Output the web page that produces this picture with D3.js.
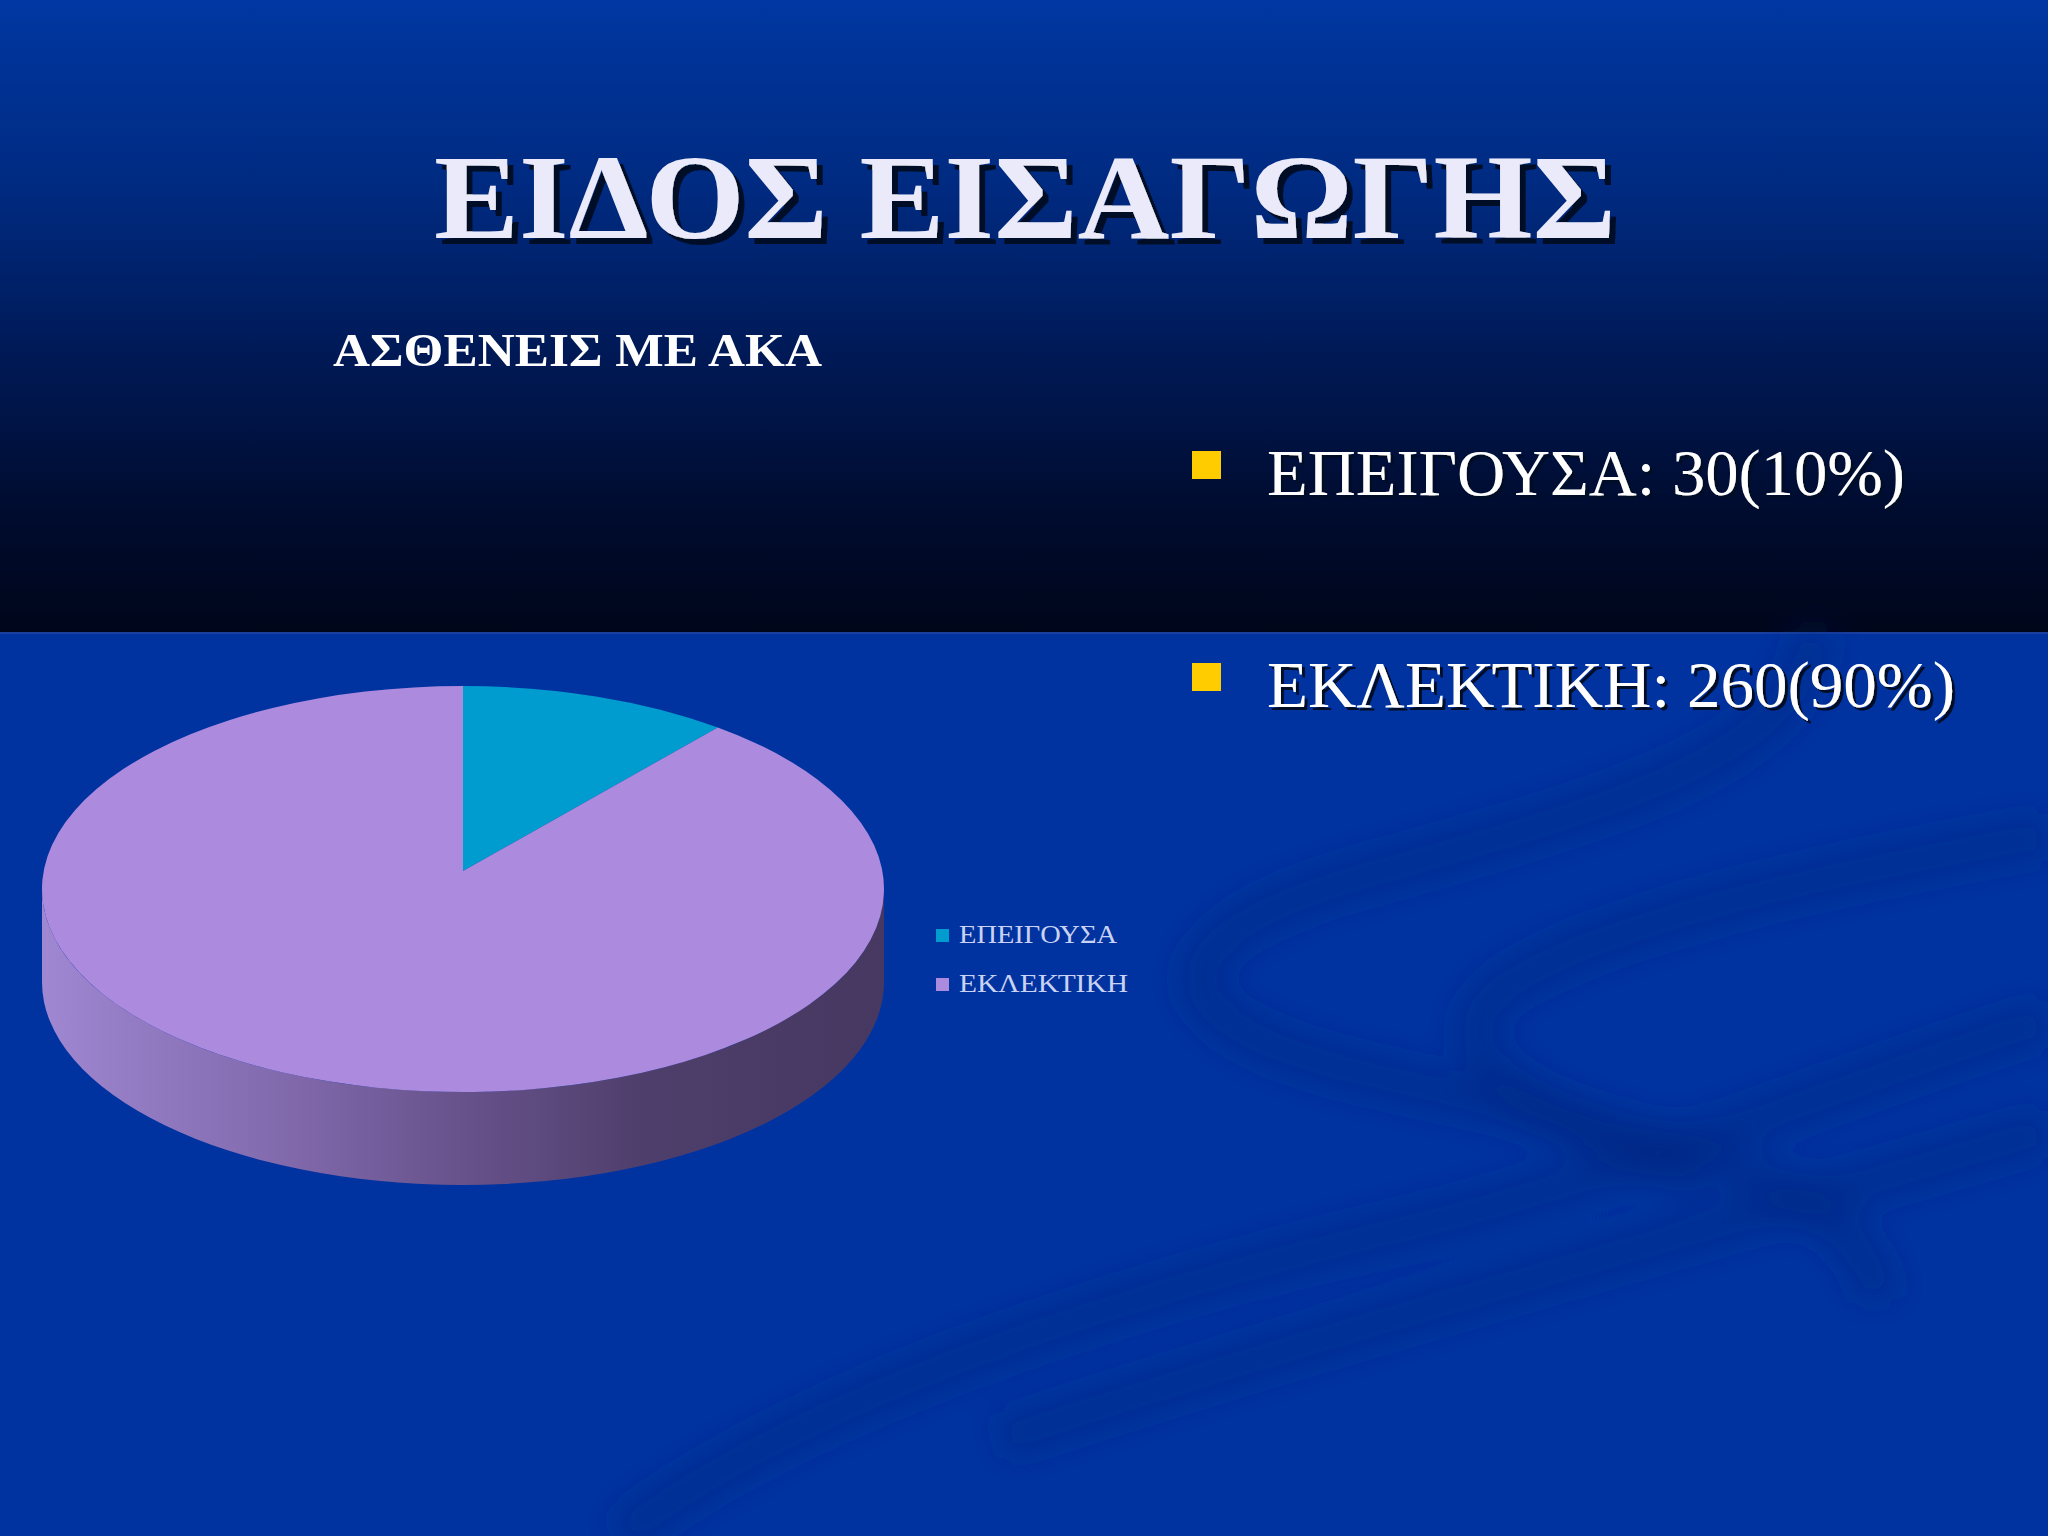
<!DOCTYPE html>
<html>
<head>
<meta charset="utf-8">
<script src="https://cdn.jsdelivr.net/npm/d3@7"></script>
<style>
  body { margin: 0; background: #0033a0; overflow: hidden; }
</style>
</head>
<body>
<div id="slide"></div>
<script>
// data
const categories = ["ΕΠΕΙΓΟΥΣΑ", "ΕΚΛΕΚΤΙΚΗ"]
const counts = [30, 260]
const percents = ["10%", "90%"]
const sliceColors = ["#009ccf", "#ac8ade"]
const title = "ΕΙΔΟΣ ΕΙΣΑΓΩΓΗΣ"
const chartTitle = "ΑΣΘΕΝΕΙΣ ΜΕ ΑΚΑ"

var width = 2048,
    height = 1536,
    split = 632

var svg = d3.select("#slide")
  .append("svg")
    .attr("width", width)
    .attr("height", height)

var defs = svg.append("defs")

// top band gradient (blue -> almost black)
var topGrad = defs.append("linearGradient")
  .attr("id", "topGrad").attr("x1", 0).attr("y1", 0).attr("x2", 0).attr("y2", 1)
;[[0, "#0037a2"], [0.3, "#002a80"], [0.55, "#001a58"], [0.8, "#000c30"], [1, "#00061a"]]
  .forEach(function(s){ topGrad.append("stop").attr("offset", s[0]).attr("stop-color", s[1]) })

// side gradient for the 3d pie
var sideGrad = defs.append("linearGradient")
  .attr("id", "sideGrad").attr("gradientUnits", "userSpaceOnUse")
  .attr("x1", 42).attr("y1", 0).attr("x2", 884).attr("y2", 0)
;[[0, "#9f87d2"], [0.3, "#8068ab"], [0.5, "#67528b"], [0.72, "#4e3e6b"], [1, "#463861"]]
  .forEach(function(s){ sideGrad.append("stop").attr("offset", s[0]).attr("stop-color", s[1]) })

defs.append("filter").attr("id", "blur")
  .attr("x", "-20%").attr("y", "-20%").attr("width", "140%").attr("height", "140%")
  .append("feGaussianBlur").attr("stdDeviation", 16)

// hard drop shadows for the slide texts
function dropShadow(id, off) {
  defs.append("filter").attr("id", id)
    .attr("x", "-5%").attr("y", "-10%").attr("width", "115%").attr("height", "130%")
    .append("feDropShadow")
      .attr("dx", off).attr("dy", off).attr("stdDeviation", 0.6)
      .attr("flood-color", "#000a28").attr("flood-opacity", 1)
}
dropShadow("shadowBig", 6)
dropShadow("shadowSmall", 3)

svg.append("rect").attr("width", width).attr("height", height).attr("fill", "#0033a0")
svg.append("rect").attr("width", width).attr("height", split).attr("fill", "url(#topGrad)")
svg.append("line").attr("x1", 0).attr("x2", width).attr("y1", split + 1).attr("y2", split + 1)
  .attr("stroke", "#1a3f9e").attr("stroke-width", 2)

// faint waves in the background
var waves = [
  "M 1815 632 C 1800 760, 1600 810, 1350 880 C 1150 940, 1150 1020, 1350 1070 C 1600 1130, 1850 1160, 1880 1300",
  "M 2048 835 C 1850 870, 1600 920, 1500 990 C 1420 1060, 1560 1120, 1700 1180",
  "M 620 1536 C 800 1400, 1100 1300, 1400 1230 C 1650 1170, 1850 1080, 2048 1020",
  "M 1000 1440 C 1300 1340, 1600 1260, 2048 1130"
]
svg.append("g").attr("filter", "url(#blur)")
  .selectAll("path").data(waves).enter().append("path")
  .attr("d", function(d){ return d })
  .attr("fill", "none")
  .attr("stroke", "#00287f")
  .attr("stroke-width", 46)
  .attr("opacity", 0.4)

function slideText(x, y, txt, size, weight, len, anchor, shadow, fill) {
  return svg.append("text")
    .attr("x", x).attr("y", y)
    .attr("text-anchor", anchor)
    .attr("font-family", "'Liberation Serif', 'DejaVu Serif', serif")
    .attr("font-size", size)
    .attr("font-weight", weight)
    .attr("textLength", len)
    .attr("lengthAdjust", "spacingAndGlyphs")
    .attr("fill", fill)
    .attr("filter", shadow ? "url(#" + shadow + ")" : null)
    .text(txt)
}

slideText(1025, 238, title, 121, "bold", 1182, "middle", "shadowBig", "#eaeafa")
slideText(333, 366, chartTitle, 46, "bold", 489, "start", null, "#ffffff")

// bullets on the right
var bulletY = d3.scalePoint().domain(categories).range([495, 707])
var bulletLen = [638, 688]
categories.forEach(function(c, i){
  svg.append("rect")
    .attr("x", 1192).attr("y", bulletY(c) - 44)
    .attr("width", 29).attr("height", 28)
    .attr("fill", "#ffcc00")
  slideText(1267, bulletY(c), c + ": " + counts[i] + "(" + percents[i] + ")", 66, "normal",
    bulletLen[i], "start", "shadowSmall", "#ffffff")
})

// 3d pie
var cx = 463, cy = 889, rx = 421, ry = 203, depth = 93, apexLift = 18

var pie = d3.pie().sort(null).value(function(d){ return d })
var slices = pie(counts)

function pt(a, dy) {
  return [cx + rx * Math.sin(a), cy - ry * Math.cos(a) + (dy || 0)]
}

var pieG = svg.append("g")

// side walls (only the front half is visible)
slices.forEach(function(s, i){
  var a0 = Math.max(s.startAngle, Math.PI / 2),
      a1 = Math.min(s.endAngle, 3 * Math.PI / 2)
  if (a1 <= a0) return
  var p0 = pt(a0), p1 = pt(a1), q1 = pt(a1, depth), q0 = pt(a0, depth)
  var d = "M" + p0 + " A" + rx + " " + ry + " 0 0 1 " + p1 +
          " L" + q1 + " A" + rx + " " + ry + " 0 0 0 " + q0 + " Z"
  pieG.append("path").attr("d", d)
    .attr("fill", i === 1 ? "url(#sideGrad)" : d3.color(sliceColors[i]).darker(0.8))
})

// top face
pieG.selectAll("path.top")
  .data(slices)
  .enter()
  .append("path")
  .attr("class", "top")
  .attr("d", function(s){
    var p0 = pt(s.startAngle), p1 = pt(s.endAngle)
    var large = (s.endAngle - s.startAngle) > Math.PI ? 1 : 0
    return "M" + cx + "," + (cy - apexLift) + " L" + p0 +
           " A" + rx + " " + ry + " 0 " + large + " 1 " + p1 + " Z"
  })
  .attr("fill", function(s, i){ return sliceColors[i] })

// chart legend
var legendY = d3.scalePoint().domain(categories).range([943, 992])
var legendLen = [158, 169]
var legend = svg.append("g")
categories.forEach(function(c, i){
  legend.append("rect")
    .attr("x", 936).attr("y", legendY(c) - 14)
    .attr("width", 13).attr("height", 13)
    .attr("fill", sliceColors[i])
  legend.append("text")
    .attr("x", 959).attr("y", legendY(c))
    .attr("font-family", "'Liberation Serif', serif")
    .attr("font-size", 26)
    .attr("textLength", legendLen[i]).attr("lengthAdjust", "spacingAndGlyphs")
    .attr("fill", "#c9d2f2")
    .text(c)
})
</script>
</body>
</html>
